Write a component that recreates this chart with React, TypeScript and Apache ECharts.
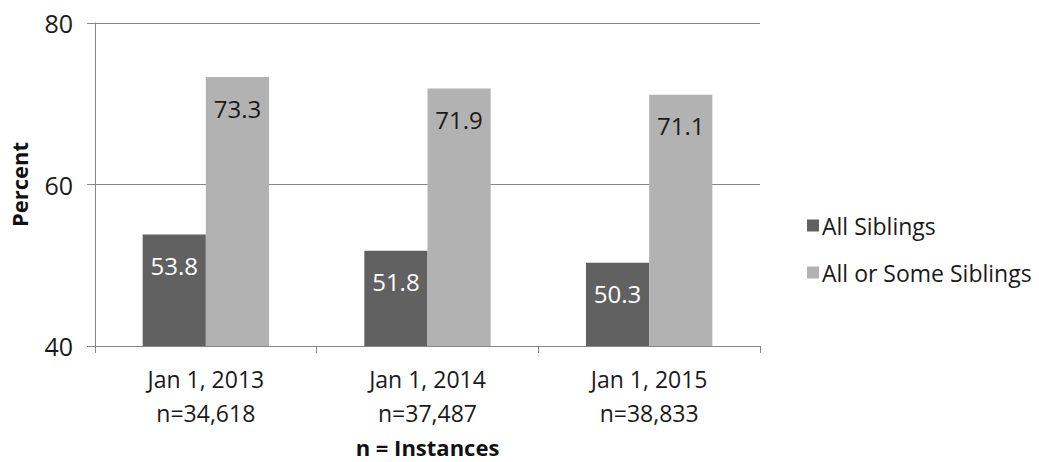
import React, { useEffect, useRef } from "react";
import * as echarts from "echarts";

const categories = ["Jan 1, 2013\nn=34,618", "Jan 1, 2014\nn=37,487", "Jan 1, 2015\nn=38,833"];
const allSiblings = [53.8, 51.8, 50.3];
const allOrSome = [73.3, 71.9, 71.1];
const yTicks = { min: 40, max: 80, interval: 20 };

const FONT = "'Open Sans', 'Noto Sans', sans-serif";

export default function App() {
  const ref = useRef<HTMLDivElement>(null);
  useEffect(() => {
    const chart = echarts.init(ref.current!, undefined, { renderer: "svg" });
    chart.setOption({
      animation: false,
      textStyle: { fontFamily: FONT },
      grid: { left: 95, right: 279, top: 23, bottom: 116, containLabel: false, outerBoundsMode: "none" },
      legend: {
        orient: "vertical",
        left: 802,
        top: 209,
        itemWidth: 12,
        itemHeight: 12,
        itemGap: 24,
        icon: "rect",
        textStyle: { fontSize: 23, color: "#1a1a1a", fontFamily: FONT, padding: [0, 0, 0, -2] },
        data: ["All Siblings", "All or Some Siblings"],
      },
      xAxis: {
        type: "category",
        data: categories,
        name: "n = Instances",
        nameLocation: "middle",
        nameGap: 90,
        nameTextStyle: {
          fontSize: 22,
          fontWeight: "bold",
          color: "#111",
          verticalAlign: "top",
          lineHeight: 22,
          fontFamily: FONT,
        },
        axisLine: { lineStyle: { color: "#868686", width: 1 } },
        axisTick: { show: true, length: 7, lineStyle: { color: "#868686" } },
        axisLabel: { fontSize: 23, color: "#1a1a1a", lineHeight: 34, margin: 16, fontFamily: FONT },
      },
      yAxis: {
        type: "value",
        min: yTicks.min,
        max: yTicks.max,
        interval: yTicks.interval,
        name: "Percent",
        nameLocation: "middle",
        nameGap: 65,
        nameTextStyle: { fontSize: 22, fontWeight: "bold", color: "#111", fontFamily: FONT },
        axisLine: { show: true, lineStyle: { color: "#868686", width: 1 } },
        axisTick: { show: true, length: 8, lineStyle: { color: "#868686" } },
        splitLine: { show: true, lineStyle: { color: "#868686", width: 1 } },
        axisLabel: { fontSize: 25, color: "#1a1a1a", margin: 22, fontFamily: FONT },
      },
      series: [
        {
          name: "All Siblings",
          type: "bar",
          data: allSiblings,
          barGap: "0%",
          barCategoryGap: "43%",
          itemStyle: { color: "#616161" },
          label: {
            show: true,
            position: "insideTop",
            distance: 19,
            fontSize: 24,
            color: "#ffffff",
            fontFamily: FONT,
          },
        },
        {
          name: "All or Some Siblings",
          type: "bar",
          data: allOrSome,
          barGap: "0%",
          barCategoryGap: "43%",
          itemStyle: { color: "#b2b2b2" },
          label: {
            show: true,
            position: "insideTop",
            distance: 19,
            fontSize: 24,
            color: "#1a1a1a",
            fontFamily: FONT,
          },
        },
      ],
    });
    return () => chart.dispose();
  }, []);
  return <div ref={ref} style={{ width: 1039, height: 462, position: "absolute", left: 0, top: 0 }} />;
}
